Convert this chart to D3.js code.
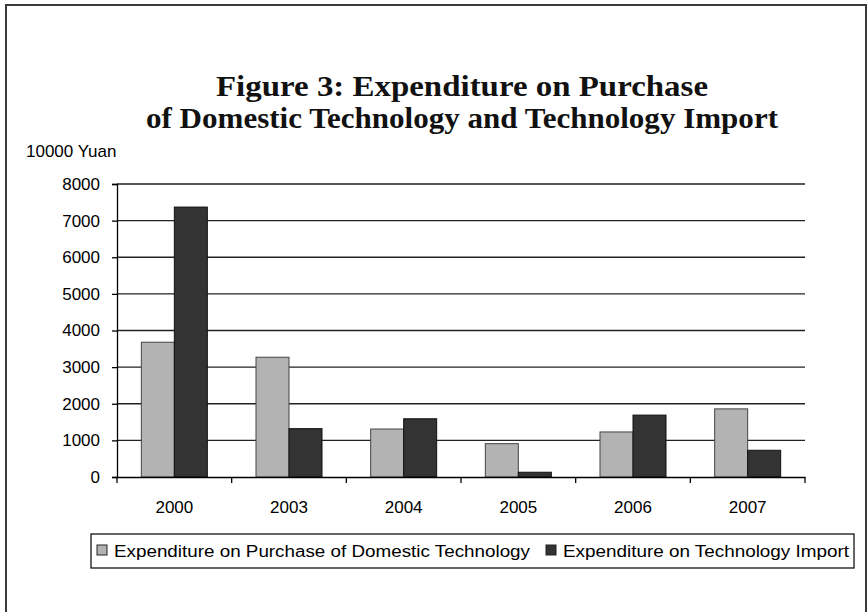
<!DOCTYPE html>
<html>
<head>
<meta charset="utf-8">
<script src="https://cdn.jsdelivr.net/npm/d3@7"></script>
<style>
  html, body { margin: 0; padding: 0; background: #fff; }
  svg { display: block; }
</style>
</head>
<body>
<svg id="chart" width="868" height="612"></svg>
<script>
const categories = ["2000", "2003", "2004", "2005", "2006", "2007"];
const seriesNames = ["Expenditure on Purchase of Domestic Technology", "Expenditure on Technology Import"];
const domesticValues = [3680, 3270, 1310, 910, 1230, 1860];
const importValues = [7370, 1320, 1590, 130, 1690, 730];
const yTicks = [0, 1000, 2000, 3000, 4000, 5000, 6000, 7000, 8000];
const titleLines = ["Figure 3: Expenditure on Purchase", "of Domestic Technology and Technology Import"];
const yUnit = "10000 Yuan";
const colors = ["#b3b3b3", "#333333"];

const svg = d3.select("#chart");
const W = 868, H = 612;
const plot = { left: 117, right: 805, top: 184, bottom: 477 };
const sans = "'Liberation Sans', Arial, sans-serif";

// outer frame
svg.append("path")
  .attr("d", `M6,${H+2} L6,5 L866,5 L866,${H+2}`)
  .attr("fill", "none").attr("stroke", "#3a3a3a").attr("stroke-width", 2);

// title
const titleLens = [492, 632];
titleLines.forEach((t, i) => {
  svg.append("text")
    .attr("x", 462).attr("y", 96 + i * 32)
    .attr("text-anchor", "middle")
    .attr("font-family", "'Liberation Serif', 'Times New Roman', serif")
    .attr("font-weight", "bold")
    .attr("font-size", 29)
    .attr("fill", "#111")
    .attr("textLength", titleLens[i])
    .attr("lengthAdjust", "spacingAndGlyphs")
    .text(t);
});

// unit label
svg.append("text")
  .attr("x", 26).attr("y", 157)
  .attr("font-family", sans)
  .attr("font-size", 17).attr("fill", "#000")
  .text(yUnit);

const x0 = d3.scaleBand().domain(categories).range([plot.left, plot.right]).paddingInner(0).paddingOuter(0);
const groupWidth = 66;
const x1 = d3.scaleBand().domain([0, 1]).range([0, groupWidth]);
const y = d3.scaleLinear().domain([0, 8000]).range([plot.bottom, plot.top]);

// gridlines
svg.append("g").selectAll("line").data(yTicks.filter(d => d > 0)).join("line")
  .attr("x1", plot.left).attr("x2", plot.right)
  .attr("y1", d => y(d)).attr("y2", d => y(d))
  .attr("stroke", "#222").attr("stroke-width", 1.3);

// y axis
const yAxis = svg.append("g")
  .attr("transform", `translate(${plot.left},0)`)
  .call(d3.axisLeft(y).tickValues(yTicks).tickSize(5).tickPadding(12).tickFormat(d3.format("d")));
yAxis.select(".domain").attr("stroke", "#000").attr("stroke-width", 1.3);
yAxis.selectAll(".tick line").attr("stroke", "#000").attr("stroke-width", 1.3);
yAxis.selectAll(".tick text")
  .attr("font-family", sans)
  .attr("font-size", 17).attr("fill", "#000");

// bars
const data = categories.map((c, i) => ({ cat: c, vals: [domesticValues[i], importValues[i]] }));
const groups = svg.append("g").selectAll("g").data(data).join("g")
  .attr("transform", d => `translate(${x0(d.cat) + (x0.bandwidth() - groupWidth) / 2},0)`);
groups.selectAll("rect").data(d => d.vals.map((v, k) => ({ v, k }))).join("rect")
  .attr("x", d => x1(d.k))
  .attr("y", d => y(d.v))
  .attr("width", x1.bandwidth())
  .attr("height", d => y(0) - y(d.v))
  .attr("fill", d => colors[d.k])
  .attr("stroke", d => d.k === 0 ? "#444" : "#111")
  .attr("stroke-width", 1);

// x axis
const xAxis = svg.append("g")
  .attr("transform", `translate(0,${plot.bottom})`)
  .call(d3.axisBottom(x0).tickSize(0).tickPadding(24));
xAxis.select(".domain").attr("stroke", "#000").attr("stroke-width", 1.5);
xAxis.selectAll(".tick text")
  .attr("font-family", sans)
  .attr("font-size", 17).attr("fill", "#000");
// category separator ticks
const sepPositions = categories.map(c => x0(c)).concat([plot.right]);
svg.append("g").selectAll("line").data(sepPositions).join("line")
  .attr("x1", d => d).attr("x2", d => d)
  .attr("y1", plot.bottom).attr("y2", plot.bottom + 6)
  .attr("stroke", "#000").attr("stroke-width", 1.3);

// legend
const legend = svg.append("g");
legend.append("rect")
  .attr("x", 91).attr("y", 534).attr("width", 763).attr("height", 34)
  .attr("fill", "#fff").attr("stroke", "#000").attr("stroke-width", 1.2);
const legendItems = [{ x: 97, k: 0, len: 416 }, { x: 546, k: 1, len: 286 }];
legendItems.forEach(it => {
  legend.append("rect")
    .attr("x", it.x).attr("y", 545).attr("width", 10).attr("height", 10)
    .attr("fill", colors[it.k]).attr("stroke", "#222").attr("stroke-width", 1);
  legend.append("text")
    .attr("x", it.x + 17).attr("y", 557)
    .attr("font-family", sans)
    .attr("font-size", 16).attr("fill", "#000")
    .attr("textLength", it.len)
    .attr("lengthAdjust", "spacingAndGlyphs")
    .text(seriesNames[it.k]);
});
</script>
</body>
</html>
